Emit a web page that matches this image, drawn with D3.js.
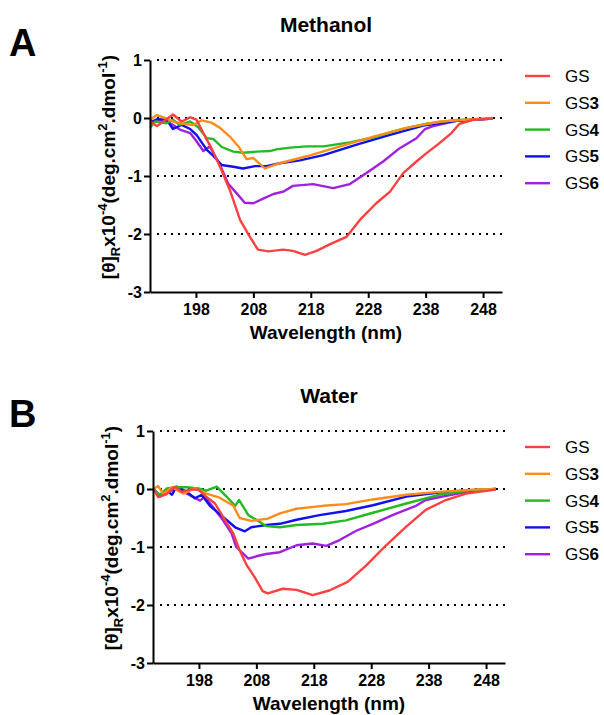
<!DOCTYPE html>
<html>
<head>
<meta charset="utf-8">
<script src="https://d3js.org/d3.v7.min.js"></script>
<style>
  body { margin: 0; background: #fff; }
  svg { font-family: 'Liberation Sans', Arial, sans-serif; }
  .grid line { stroke: #000; stroke-width: 2.2; stroke-dasharray: 2,5; }
  .axis path, .axis line { stroke: #000; stroke-width: 2; }
  .axis text { font-weight: bold; fill: #000; }
</style>
</head>
<body>
<div id="chart"></div>
<script>
var width = 604, height = 715;

// series names and colours
var seriesNames = ['GS', 'GS3', 'GS4', 'GS5', 'GS6'];
var seriesColors = ['#ff4040', '#ff8c1a', '#22bb22', '#1010ee', '#a020e0'];
var xTicks = [198, 208, 218, 228, 238, 248];
var yTicks = [1, 0, -1, -2, -3];
var gridTicks = [1, 0, -1, -2];

// Methanol  [wavelength nm, value]
var methGS = [[190,-0.06],[191.2,-0.14],[194,0.06],[195.5,-0.06],[197,0.01],[198.1,-0.03],[199.6,-0.32],[200.7,-0.52],[202.2,-0.84],[203.9,-1.24],[205.7,-1.76],[207.4,-2.05],[208.8,-2.27],[210.6,-2.3],[213.2,-2.27],[214.9,-2.29],[217,-2.36],[219,-2.29],[221.3,-2.18],[224.2,-2.05],[226.8,-1.73],[229.4,-1.47],[231.8,-1.27],[234.1,-0.95],[236.4,-0.75],[238.1,-0.61],[240.2,-0.45],[242.5,-0.26],[243.9,-0.1],[246.3,-0.03],[249.7,-0.01]];
var methGS3 = [[190,-0.03],[191.2,0.05],[192.6,0],[194,-0.06],[195.8,-0.1],[197.5,-0.12],[199,-0.04],[200.7,-0.08],[202.2,-0.17],[203.9,-0.32],[205.4,-0.49],[206.8,-0.71],[208,-0.69],[210,-0.87],[212.6,-0.78],[217.3,-0.66],[223.1,-0.49],[228.9,-0.32],[234.7,-0.17],[240.5,-0.06],[246.3,-0.02],[249.7,0]];
var methGS4 = [[190,-0.17],[190.9,-0.06],[192.9,-0.09],[194,-0.03],[195.2,-0.12],[197,-0.06],[198.4,-0.16],[199.9,-0.35],[201,-0.36],[202.5,-0.5],[204.5,-0.58],[206.2,-0.6],[208.6,-0.58],[210.9,-0.57],[212,-0.54],[214.4,-0.51],[217.3,-0.49],[220.2,-0.49],[224.8,-0.42],[228.3,-0.35],[231.8,-0.25],[234.7,-0.17],[238.1,-0.1],[242.8,-0.04],[249.7,-0.01]];
var methGS5 = [[190,-0.09],[191.2,-0.02],[192.9,-0.03],[194,-0.19],[195.5,-0.12],[197,-0.19],[198.1,-0.29],[199.9,-0.55],[201,-0.65],[202.5,-0.81],[204.5,-0.84],[206.2,-0.87],[208.3,-0.83],[210.3,-0.83],[212.6,-0.78],[216.1,-0.73],[220.2,-0.64],[226,-0.46],[231.8,-0.29],[237.6,-0.13],[243.4,-0.05],[249.7,-0.01]];
var methGS6 = [[190,-0.06],[191.7,-0.03],[193.5,-0.09],[195.2,-0.2],[197,-0.26],[198.1,-0.4],[199.3,-0.57],[200.4,-0.49],[202.2,-0.81],[203.6,-1.13],[205.1,-1.3],[206.5,-1.46],[208,-1.47],[209.7,-1.39],[211.5,-1.31],[213.2,-1.27],[214.9,-1.17],[218.4,-1.14],[221.9,-1.21],[224.8,-1.14],[227.7,-0.95],[230.6,-0.75],[233.5,-0.52],[236.4,-0.35],[237.9,-0.19],[239.3,-0.14],[243.4,-0.05],[249.7,-0.01]];

// Water
var watGS = [[190.2,-0.02],[190.9,-0.14],[192.4,-0.09],[193.8,0.04],[195,-0.05],[196.4,-0.01],[197.9,-0.01],[199.6,-0.16],[200.8,-0.25],[202.2,-0.48],[204,-0.77],[205.1,-1.06],[206.3,-1.31],[207.7,-1.52],[209.1,-1.76],[210,-1.8],[212.6,-1.72],[215,-1.74],[217.8,-1.83],[220.7,-1.75],[223.9,-1.6],[227.1,-1.32],[230.6,-0.97],[234.1,-0.65],[237.5,-0.36],[241,-0.19],[244.5,-0.08],[249.7,-0.01]];
var watGS3 = [[190.2,0.01],[190.9,0.05],[191.8,-0.08],[193.3,0.03],[195.3,-0.08],[197.3,0.01],[199.3,-0.08],[201.6,-0.15],[204,-0.29],[205.1,-0.5],[207.1,-0.55],[210,-0.51],[212.1,-0.42],[215,-0.34],[219.6,-0.29],[223.6,-0.26],[228.3,-0.18],[234.1,-0.1],[239.8,-0.05],[245.6,-0.01],[249.7,0]];
var watGS4 = [[190.2,-0.02],[191.2,-0.1],[192.4,0.01],[194.1,0.03],[195.9,0.03],[197.9,0.01],[199.3,-0.03],[201.1,0.04],[202.8,-0.13],[204.3,-0.29],[205,-0.19],[206.6,-0.45],[208,-0.53],[209.7,-0.64],[212.1,-0.66],[215,-0.62],[219.6,-0.6],[223.6,-0.54],[228.3,-0.41],[234.1,-0.25],[239.8,-0.1],[245.6,-0.02],[249.7,0]];
var watGS5 = [[190.2,-0.03],[191.2,-0.1],[192.4,-0.02],[193.3,-0.1],[194.1,0.04],[195.9,-0.05],[197.3,-0.16],[198.5,-0.1],[199.9,-0.29],[202.2,-0.48],[204.3,-0.66],[206,-0.73],[207.1,-0.66],[209.7,-0.62],[212.1,-0.6],[215,-0.53],[219,-0.45],[223.6,-0.38],[228.3,-0.28],[234.1,-0.13],[239.8,-0.06],[245.6,-0.02],[249.7,0]];
var watGS6 = [[190.2,-0.01],[191.2,-0.13],[192.7,-0.06],[194.1,0.03],[195.9,-0.08],[198.2,-0.2],[199,-0.13],[200.5,-0.32],[202.2,-0.54],[203.7,-0.77],[204.5,-1.0],[206.6,-1.2],[208,-1.16],[209.7,-1.12],[212.1,-1.09],[215,-0.97],[217.8,-0.94],[220.2,-0.98],[222.5,-0.88],[225.4,-0.72],[228.3,-0.6],[231.7,-0.45],[235.8,-0.29],[237.5,-0.19],[240.4,-0.13],[245.6,-0.03],[249.7,0]];

var svg = d3.select('#chart')
  .append('svg')
  .attr('width', width)
  .attr('height', height);

function drawPanel(letter, title, series, left, right, top, bottom) {
  var x = d3.scaleLinear().domain([190, 251.3]).range([left, right]);
  var y = d3.scaleLinear().domain([-3, 1]).range([bottom, top]);

  // panel letter
  svg.append('text')
    .attr('x', 9).attr('y', top - 4)
    .text(letter)
    .style('font-size', '38px').style('font-weight', 'bold');

  // title
  svg.append('text')
    .attr('x', (left + right) / 2).attr('y', top - 28)
    .attr('text-anchor', 'middle')
    .text(title)
    .style('font-size', '21px').style('font-weight', 'bold');

  // dotted grid lines
  svg.append('g').attr('class', 'grid')
    .selectAll('line').data(gridTicks).enter().append('line')
    .attr('x1', left + 7).attr('x2', right)
    .attr('y1', function(d) { return y(d); })
    .attr('y2', function(d) { return y(d); });

  // series lines
  var line = d3.line()
    .x(function(d) { return x(d[0]); })
    .y(function(d) { return y(d[1]); })
    .curve(d3.curveLinear);
  // draw in reverse so GS sits on top
  for (var i = series.length - 1; i >= 0; i--) {
    svg.append('path')
      .datum(series[i])
      .attr('d', line)
      .attr('fill', 'none')
      .attr('stroke', seriesColors[i])
      .attr('stroke-width', 2.4)
      .attr('stroke-linejoin', 'round');
  }

  // axes
  var xAxis = svg.append('g').attr('class', 'axis')
    .attr('transform', 'translate(0,' + bottom + ')')
    .call(d3.axisBottom(x).tickValues(xTicks).tickSize(6).tickSizeOuter(0).tickPadding(6));
  var yAxis = svg.append('g').attr('class', 'axis')
    .attr('transform', 'translate(' + left + ',0)')
    .call(d3.axisLeft(y).tickValues(yTicks).tickSize(6).tickSizeOuter(0).tickPadding(2)
      .tickFormat(function(d) { return String(d); }));
  xAxis.selectAll('text').style('font-size', '16px');
  yAxis.selectAll('text').style('font-size', '16px');

  // x label
  svg.append('text')
    .attr('x', (left + right) / 2).attr('y', bottom + 47)
    .attr('text-anchor', 'middle')
    .text('Wavelength (nm)')
    .style('font-size', '19px').style('font-weight', 'bold');

  // y label with sub/superscripts
  var yl = svg.append('text')
    .attr('transform', 'translate(' + (left - 35) + ',' + ((top + bottom) / 2 - 9) + ') rotate(-90)')
    .attr('text-anchor', 'middle')
    .style('font-size', '19px').style('font-weight', 'bold');
  yl.append('tspan').text('[θ]');
  yl.append('tspan').text('R').attr('dy', 5).style('font-size', '13px');
  yl.append('tspan').text('x10').attr('dy', -5);
  yl.append('tspan').text('-4').attr('dy', -8).style('font-size', '13px');
  yl.append('tspan').text('(deg.cm').attr('dy', 8);
  yl.append('tspan').text('2').attr('dy', -8).style('font-size', '13px');
  yl.append('tspan').text('.dmol').attr('dy', 8);
  yl.append('tspan').text('-1').attr('dy', -8).style('font-size', '13px');
  yl.append('tspan').text(')').attr('dy', 8);

  // legend
  var leg = svg.append('g').selectAll('g').data(seriesNames).enter().append('g')
    .attr('transform', function(d, i) { return 'translate(525,' + (top + 16 + i * 26.8) + ')'; });
  leg.append('line')
    .attr('x1', 0).attr('x2', 25).attr('y1', 0).attr('y2', 0)
    .attr('stroke', function(d, i) { return seriesColors[i]; })
    .attr('stroke-width', 2.4);
  var lt = leg.append('text')
    .attr('x', 40).attr('y', 6)
    .style('font-size', '17px');
  lt.append('tspan').text('GS');
  lt.append('tspan').text(function(d) { return d.slice(2); }).style('font-weight', 'bold');
}

drawPanel('A', 'Methanol', [methGS, methGS3, methGS4, methGS5, methGS6], 150, 502, 60, 292);
drawPanel('B', 'Water', [watGS, watGS3, watGS4, watGS5, watGS6], 153, 505, 431, 663);
</script>
</body>
</html>
